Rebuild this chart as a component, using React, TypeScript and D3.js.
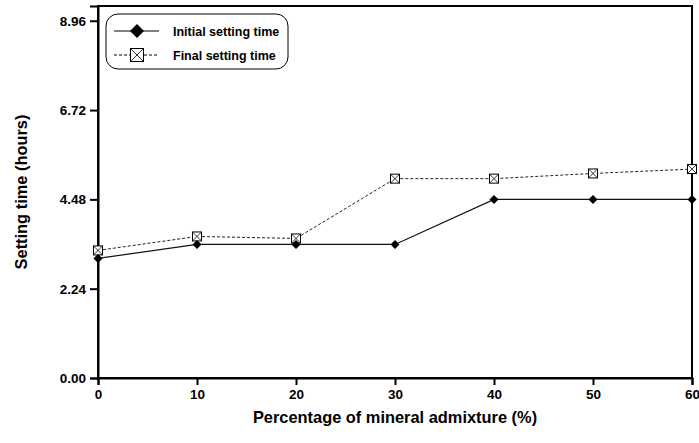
import React, { useEffect, useRef } from "react";
import * as d3 from "d3";

const admixture = [0, 10, 20, 30, 40, 50, 60];
const initialTime = [3.0, 3.35, 3.35, 3.35, 4.48, 4.48, 4.48];
const finalTime = [3.2, 3.55, 3.5, 5.0, 5.0, 5.13, 5.24];
const yTicks = [0, 2.24, 4.48, 6.72, 8.96];
const xTicks = [0, 10, 20, 30, 40, 50, 60];

const W = 699;
const H = 443;
const margin = { left: 98, right: 7, top: 6, bottom: 65 };
const FONT = "Arial, 'Liberation Sans', sans-serif";

export default function App() {
  const ref = useRef<SVGSVGElement>(null);

  useEffect(() => {
    const svg = d3.select(ref.current);
    svg.selectAll("*").remove();

    const x = d3.scaleLinear().domain([0, 60]).range([margin.left, W - margin.right]);
    const y = d3.scaleLinear().domain([0, 9.33]).range([H - margin.bottom, margin.top]);

    // frame
    svg.append("rect")
      .attr("x", margin.left).attr("y", margin.top)
      .attr("width", W - margin.left - margin.right)
      .attr("height", H - margin.top - margin.bottom)
      .attr("fill", "none").attr("stroke", "#000").attr("stroke-width", 2);

    const yAxis = svg.append("g")
      .attr("transform", `translate(${margin.left},0)`)
      .call(d3.axisLeft(y).tickValues(yTicks).tickFormat(d3.format(".2f")).tickSize(8).tickPadding(4));
    const xAxis = svg.append("g")
      .attr("transform", `translate(0,${H - margin.bottom})`)
      .call(d3.axisBottom(x).tickValues(xTicks).tickSize(7).tickPadding(4));

    [yAxis, xAxis].forEach(g => {
      g.select(".domain").attr("stroke-width", 2);
      g.selectAll(".tick line").attr("stroke-width", 2);
      g.selectAll("text")
        .attr("font-family", FONT).attr("font-weight", "bold")
        .attr("font-size", 13.5).attr("fill", "#000");
    });

    // lines
    const line = d3.line<number>()
      .x((_, i) => x(admixture[i]))
      .y(d => y(d));

    svg.append("path").datum(finalTime)
      .attr("d", line).attr("fill", "none")
      .attr("stroke", "#222").attr("stroke-width", 1).attr("stroke-dasharray", "3,2");
    svg.append("path").datum(initialTime)
      .attr("d", line).attr("fill", "none")
      .attr("stroke", "#111").attr("stroke-width", 1.2);

    const diamond = (g: any, cx: number, cy: number, r: number) =>
      g.append("path")
        .attr("d", `M${cx},${cy - r}L${cx + r},${cy}L${cx},${cy + r}L${cx - r},${cy}Z`)
        .attr("fill", "#000");
    const boxX = (g: any, cx: number, cy: number, h: number) => {
      g.append("rect").attr("x", cx - h).attr("y", cy - h)
        .attr("width", 2 * h).attr("height", 2 * h)
        .attr("fill", "#fff").attr("stroke", "#000").attr("stroke-width", 1);
      g.append("path")
        .attr("d", `M${cx - h},${cy - h}L${cx + h},${cy + h}M${cx + h},${cy - h}L${cx - h},${cy + h}`)
        .attr("stroke", "#000").attr("stroke-width", 0.8);
    };

    const pts = svg.append("g");
    finalTime.forEach((v, i) => boxX(pts, x(admixture[i]), y(v), 4.5));
    initialTime.forEach((v, i) => diamond(pts, x(admixture[i]), y(v), 4.5));

    // legend
    const lg = svg.append("g");
    lg.append("rect")
      .attr("x", 106).attr("y", 14).attr("width", 182).attr("height", 55)
      .attr("rx", 12).attr("fill", "#fff").attr("stroke", "#000").attr("stroke-width", 1);
    lg.append("line").attr("x1", 114).attr("x2", 159).attr("y1", 31).attr("y2", 31)
      .attr("stroke", "#000").attr("stroke-width", 1.2);
    diamond(lg, 137, 31, 7);
    lg.append("line").attr("x1", 114).attr("x2", 159).attr("y1", 55).attr("y2", 55)
      .attr("stroke", "#000").attr("stroke-width", 1).attr("stroke-dasharray", "3,2");
    boxX(lg, 137, 55, 6.5);
    lg.append("text").attr("x", 173).attr("y", 35.5).text("Initial setting time");
    lg.append("text").attr("x", 173).attr("y", 59.5).text("Final setting time");
    lg.selectAll("text").attr("font-family", FONT).attr("font-weight", "bold").attr("font-size", 12.5);

    // axis titles
    svg.append("text")
      .attr("x", 395).attr("y", 423)
      .attr("text-anchor", "middle")
      .attr("font-family", FONT).attr("font-weight", "bold").attr("font-size", 16.4)
      .text("Percentage of mineral admixture (%)");
    svg.append("text")
      .attr("transform", `translate(27,192) rotate(-90)`)
      .attr("text-anchor", "middle")
      .attr("font-family", FONT).attr("font-weight", "bold").attr("font-size", 16.4)
      .text("Setting time (hours)");
  }, []);

  return (
    <svg ref={ref} width={W} height={H}
      style={{ position: "absolute", left: 0, top: 0, background: "#fff" }} />
  );
}
